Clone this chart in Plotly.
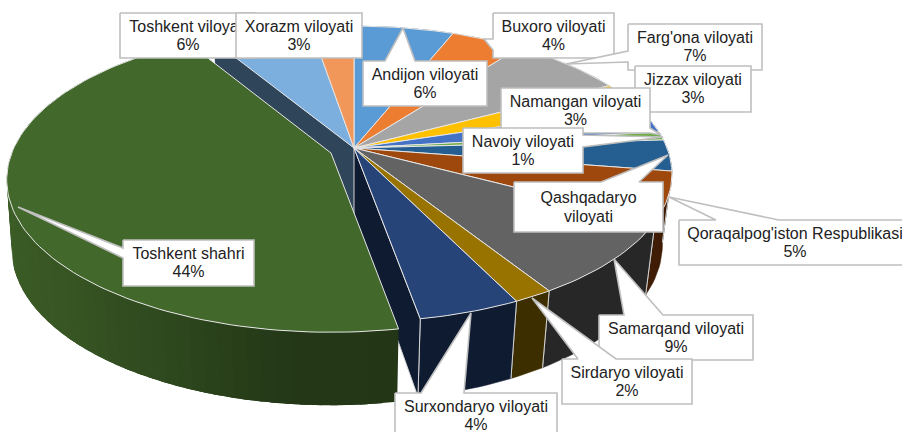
import math
import plotly.graph_objects as go

# ---- data ----
regions = ["Andijon viloyati", "Buxoro viloyati", "Farg'ona viloyati", "Jizzax viloyati",
           "Namangan viloyati", "Navoiy viloyati", "Qashqadaryo viloyati",
           "Qoraqalpog'iston Respublikasi", "Samarqand viloyati", "Sirdaryo viloyati",
           "Surxondaryo viloyati", "Toshkent shahri", "Toshkent viloyati", "Xorazm viloyati"]
# slice shares as drawn
shares = [6.0, 4.3, 6.9, 2.9, 3.1, 0.9, 3.4, 5.3, 8.3, 1.7, 4.4, 44.2, 6.0, 2.6]
# percentages printed on the labels (Qashqadaryo's is not visible)
printed = ["6%", "4%", "7%", "3%", "3%", "1%", "", "5%", "9%", "2%", "4%", "44%", "6%", "3%"]
colors = ["#5B9BD5", "#ED7D31", "#A5A5A5", "#FFC000", "#4472C4", "#70AD47", "#255E91",
          "#9E480E", "#636363", "#997300", "#264478", "#43682B", "#7CAFDD", "#F1975A"]
exploded = "Toshkent shahri"

# ---- projection of the tilted pie onto the page ----
CX, CY, A, B, K, M, D = 354, 148, 313, 143.4, 0.176, 0.03, 72
# pulled-out slice: offset and the slight enlargement it gets from coming nearer
TOP_OFF = (-23, 5, 1.02, 1.03)
BOT_OFF = (-23, 5, 1.035, 1.0)
NO_OFF = (0, 0, 1, 1)


def top(theta, off=NO_OFF):
    u, v = math.sin(theta), math.cos(theta)
    w = 1 + K * v
    return CX + A * u / w * off[2] + off[0], CY - B * v / w * off[3] + off[1]


def bot(theta, off=NO_OFF):
    u, v = math.sin(theta), math.cos(theta)
    w = 1 + K * v + M
    return CX + A * u / w * off[2] + off[0], CY + (D - B * v) / w * off[3] + off[1]


def apex(off=NO_OFF):
    return CX + off[0], CY + off[1]


def apex_bot(off=NO_OFF):
    return CX + off[0], CY + D / (1 + M) + off[1]


def arc(f, a, b, off=NO_OFF, step=math.radians(1.5)):
    n = max(2, int(abs(b - a) / step) + 1)
    return [f(a + (b - a) * i / n, off) for i in range(n + 1)]


def shade(hex_color, s):
    r, g, b = (int(hex_color[i:i + 2], 16) for i in (1, 3, 5))
    return f"rgb({int(r * s)},{int(g * s)},{int(b * s)})"


fig = go.Figure()


def poly(pts, fill=None, line=None, width=1.0):
    xs = [p[0] for p in pts] + [pts[0][0]]
    ys = [p[1] for p in pts] + [pts[0][1]]
    fig.add_trace(go.Scatter(
        x=xs, y=ys, mode="lines", fill="toself" if fill else None, fillcolor=fill,
        line=dict(color=line or "rgba(0,0,0,0)", width=width if line else 0),
        hoverinfo="skip", showlegend=False))


def seg(p, q, color="#d4d4d4", width=1.0):
    fig.add_trace(go.Scatter(x=[p[0], q[0]], y=[p[1], q[1]], mode="lines",
                             line=dict(color=color, width=width),
                             hoverinfo="skip", showlegend=False))


# slice angles
total = sum(shares)
angles, acc = [], 0.0
for s in shares:
    a0 = acc / total * 2 * math.pi
    acc += s
    angles.append((a0, acc / total * 2 * math.pi))

gi = regions.index(exploded)
g0, g1 = angles[gi]

# outer walls of the slices that stay in place
for i, (a0, a1) in enumerate(angles):
    if i == gi:
        continue
    poly(arc(top, a0, a1) + arc(bot, a1, a0), fill=shade(colors[i], 0.4),
         line=shade(colors[i], 0.4), width=0.5)
    if math.pi / 2 < a0 < math.pi * 1.1:
        seg(top(a0), bot(a0))
        seg(top(a1), bot(a1))

# inner walls uncovered by the pulled-out slice
poly([apex(), top(g1), bot(g1), apex_bot()], fill="#2F455A")
poly([apex(), top(g0), bot(g0), apex_bot()], fill=shade(colors[gi - 1], 0.4), line="#d4d4d4", width=1)

# top faces of the slices that stay in place
for i, (a0, a1) in enumerate(angles):
    if i == gi:
        continue
    poly([apex()] + arc(top, a0, a1), fill=colors[i], line="#e6e6e6", width=1)

# pulled-out slice: gradient wall, then top face
stops = [(165, .53), (188, .55), (205, .70), (225, .82), (255, .90), (340, .90)]


def green_shade(deg):
    for (d0, s0), (d1, s1) in zip(stops, stops[1:]):
        if d0 <= deg <= d1:
            return s0 + (s1 - s0) * (deg - d0) / (d1 - d0)
    return stops[-1][1]


n_strips = 70
da = (g1 - g0) / n_strips
for j in range(n_strips):
    a = g0 + da * j
    b = min(g1, a + 2.5 * da)      # each strip runs under the next one: no seams
    col = shade(colors[gi], green_shade(math.degrees(a + da / 2)))
    poly(arc(top, a, b, TOP_OFF) + arc(bot, b, a, BOT_OFF), fill=col)
poly([apex(TOP_OFF)] + arc(top, g0, g1, TOP_OFF), fill=colors[gi], line="#e6e6e6", width=1)

# ---- callout labels: box (left, top, right, bottom), tail base points, tail tip ----
boxes = {
    "Andijon viloyati": ((363, 61, 487, 106), (415, 61), (385, 61), (403, 28)),
    "Buxoro viloyati": ((493, 13, 614, 58), (493, 39), (493, 50), (484, 39)),
    "Farg'ona viloyati": ((628, 24, 762, 70), (628, 51), (628, 62), (566, 64)),
    "Jizzax viloyati": ((635, 66, 751, 112), None, None, None),
    "Namangan viloyati": ((501, 88, 650, 133), (650, 128), (650, 133), (661, 135)),
    "Navoiy viloyati": ((463, 128, 583, 173), (583, 135), (583, 147), (663, 137)),
    "Qashqadaryo viloyati": ((514, 182, 663, 232), (639, 182), (601, 182), (668, 155)),
    "Qoraqalpog'iston Respublikasi": ((679, 220, 915, 265), (779, 220), (716, 220), (669, 197)),
    "Samarqand viloyati": ((599, 315, 753, 360), (663, 315), (624, 315), (614, 259)),
    "Sirdaryo viloyati": ((562, 359, 692, 404), (616, 359), (578, 359), (532, 298)),
    "Surxondaryo viloyati": ((395, 393, 557, 440), (464, 393), (421, 393), (471, 313)),
    "Toshkent shahri": ((123, 240, 254, 286), (123, 248), (123, 258), (18, 207)),
    "Toshkent viloyati": ((120, 13, 256, 58), None, None, None),
    "Xorazm viloyati": ((236, 13, 362, 58), None, None, None),
}
line_y = {"Qashqadaryo viloyati": (199, 218)}
label_lines = {"Qashqadaryo viloyati": ("Qashqadaryo", "viloyati")}
text_x = {"Qoraqalpog'iston Respublikasi": 795, "Surxondaryo viloyati": 476}

for name, pct in zip(regions, printed):
    (l, t, r, b), p, q, tip = boxes[name]
    # walk the border clockwise and insert the tail where its base lies
    if tip is None:
        outline = [(l, t), (r, t), (r, b), (l, b)]
    elif p[1] == q[1] and p[1] == t:      # tail on the top edge
        outline = [(l, t), (min(p[0], q[0]), t), tip, (max(p[0], q[0]), t), (r, t), (r, b), (l, b)]
    elif p[0] == l:                       # tail on the left edge
        outline = [(l, t), (r, t), (r, b), (l, b), (l, max(p[1], q[1])), tip, (l, min(p[1], q[1]))]
    else:                                 # tail on the right edge
        outline = [(l, t), (r, t), (r, min(p[1], q[1])), tip, (r, max(p[1], q[1])), (r, b), (l, b)]
    poly(outline, fill="#ffffff", line="#bfbfbf", width=1.6)

    first, second = label_lines.get(name, (name, pct))
    xc = text_x.get(name, (l + r) / 2)
    y1, y2 = line_y.get(name, (t + 14.5, t + 33))
    fig.add_trace(go.Scatter(
        x=[xc, xc], y=[y1, y2], mode="text", text=[first, second],
        textposition="middle center",
        textfont=dict(family="Liberation Sans, Arial, sans-serif", size=16, color="#222222"),
        hoverinfo="skip", showlegend=False))

fig.update_layout(
    width=902, height=432, margin=dict(l=0, r=0, t=0, b=0),
    paper_bgcolor="white", plot_bgcolor="white", showlegend=False,
    xaxis=dict(range=[0, 902], visible=False, fixedrange=True),
    yaxis=dict(range=[432, 0], visible=False, fixedrange=True),
)
fig.write_html("out.html", config={"displayModeBar": False},
               post_script="document.body.style.margin='0';document.body.style.overflow='hidden';")
